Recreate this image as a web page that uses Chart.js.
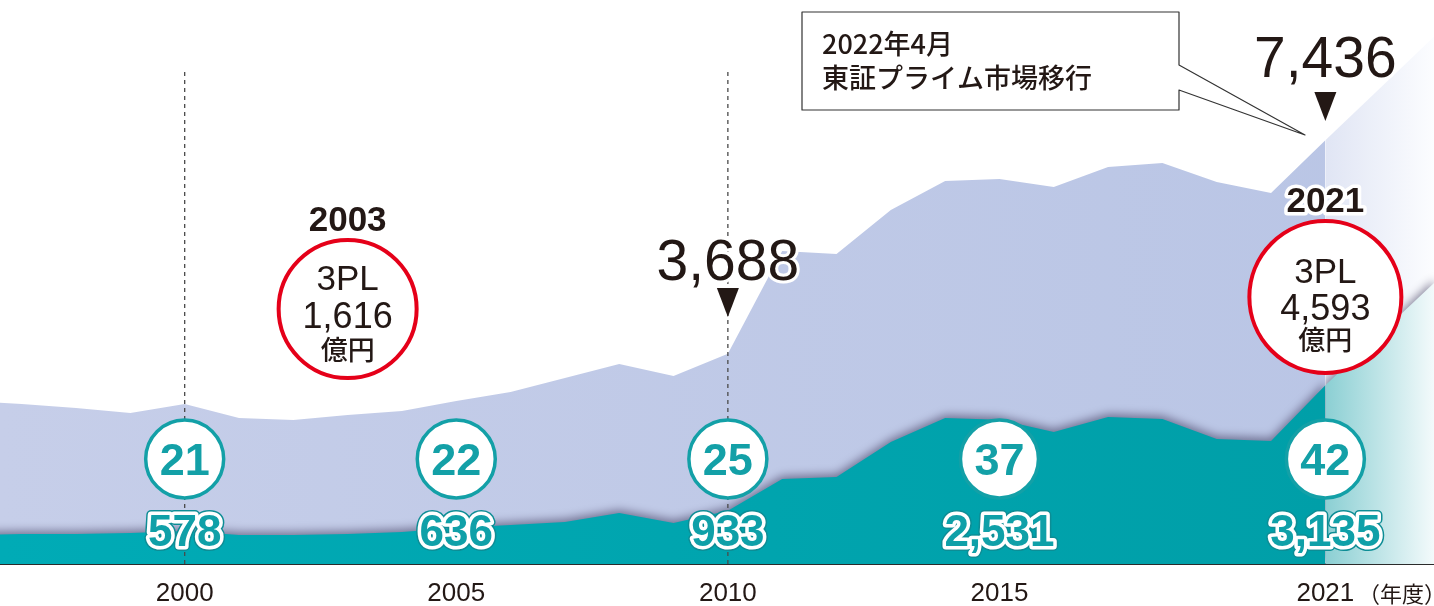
<!DOCTYPE html>
<html><head><meta charset="utf-8">
<script src="https://cdn.jsdelivr.net/npm/chart.js@4/dist/chart.umd.min.js"></script>
<style>html,body{margin:0;padding:0;background:#fff}#wrap{width:1434px;height:606px;position:relative}</style>
</head><body><div id="wrap"><canvas id="c" width="1434" height="606"></canvas></div>
<script>
// ---- data ----
const years       = [1996,1997,1998,1999,2000,2001,2002,2003,2004,2005,2006,2007,2008,2009,2010,2011,2012,2013,2014,2015,2016,2017,2018,2019,2020,2021];
const totalValues = [2860,2807,2737,2649,2807,2561,2526,2614,2684,2860,3018,3263,3509,3298,3688,5491,5439,6211,6719,6754,6614,6965,7035,6702,6509,7436];
const tplValues   = [509,526,526,544,578,509,509,526,561,636,684,737,895,719,933,1491,1526,2140,2561,2531,2316,2579,2544,2193,2158,3135];
const projYears   = [2021,2023];
const totalProj   = [7436,9250];
const tplProj     = [3135,4930];
const guideYears  = [2000,2010];
const guideTop    = 8700;
const tickYears   = [2000,2005,2010,2015,2021];
const companyYears  = [2000,2005,2010,2015,2021];
const companyCounts = ['21','22','25','37','42'];
const tplLabels     = ['578','636','933','2,531','3,135'];
const peakYears   = [2010,2021];
const peakLabels  = ['3,688','7,436'];
const marketYears = [2003,2021];
const marketLabels= ['1,616','4,593'];
const calloutLines= ['2022年4月','東証プライム市場移行'];
const unitLabel   = '（年度）';

// ---- style ----
const SANS = '"Liberation Sans", Arial, Helvetica, sans-serif';
const CJK  = '"Noto Sans CJK JP", "Noto Sans", sans-serif';
const INK = '#231815', TEAL = '#13a0a7', RED = '#e50019';

const pts = (xs, ys) => xs.map((x,i)=>({x, y: ys[i]}));

function hGrad(ctx, area, stops){
  const g = ctx.createLinearGradient(area.left,0,area.right,0);
  stops.forEach(s=>g.addColorStop(s[0],s[1]));
  return g;
}
function projGrad(chart, c0, c1){
  const {ctx, chartArea, scales} = chart;
  if(!chartArea) return c0;
  const x0 = scales.x.getPixelForValue(2021), x1 = chartArea.right;
  const g = ctx.createLinearGradient(x0,0,x1,0);
  g.addColorStop(0,c0); g.addColorStop(1,c1); return g;
}

const shadowPlugin = {
  id:'areaShadow',
  afterDatasetDraw(chart,args){
    const ctx = chart.ctx;
    if(args.index===4){ ctx.save(); ctx.shadowColor='rgba(60,55,90,0.6)'; ctx.shadowBlur=10; ctx.shadowOffsetX=0; ctx.shadowOffsetY=-3; }
    if(args.index===2){ ctx.restore(); }
  }
};

function capText(ctx, s, x, cy, size, weight, color, family, halo){
  ctx.font = `${weight} ${size}px ${family}`;
  ctx.textAlign='center'; ctx.textBaseline='alphabetic';
  const y = cy + size*0.716/2;
  if(halo){ ctx.lineJoin='round'; ctx.strokeStyle='#fff'; ctx.lineWidth=halo; ctx.strokeText(s,x,y); }
  ctx.fillStyle=color; ctx.fillText(s,x,y);
}
function circle(ctx,x,y,r,fill,stroke,lw){
  ctx.beginPath(); ctx.arc(x,y,r,0,Math.PI*2);
  ctx.fillStyle=fill; ctx.fill();
  ctx.lineWidth=lw; ctx.strokeStyle=stroke; ctx.stroke();
}
function triangle(ctx,x,top,w,h){
  ctx.beginPath(); ctx.moveTo(x-w/2,top); ctx.lineTo(x+w/2,top); ctx.lineTo(x,top+h); ctx.closePath();
  ctx.fillStyle=INK; ctx.fill();
}

const annotPlugin = {
  id:'annot',
  afterDraw(chart){
    const ctx = chart.ctx, xs = chart.scales.x;
    ctx.save();
    companyYears.forEach((yr,i)=>{
      const x = xs.getPixelForValue(yr);
      circle(ctx,x,459,39,'#fff',TEAL,3.5);
      capText(ctx,companyCounts[i],x,459,45,'bold',TEAL,SANS);
      ctx.font=`bold 44px ${SANS}`; ctx.textAlign='center'; ctx.textBaseline='alphabetic';
      const y = 530 + 44*0.716/2; ctx.lineJoin='round';
      ctx.strokeStyle='#0d8d95'; ctx.lineWidth=10; ctx.strokeText(tplLabels[i],x,y);
      ctx.strokeStyle='#fff'; ctx.lineWidth=7; ctx.strokeText(tplLabels[i],x,y);
      ctx.fillStyle='#0fa0a8'; ctx.fillText(tplLabels[i],x,y);
    });
    const mk = [{cy:309,r:69,yl:218,t:[277,315,350]},{cy:297,r:76,yl:199,t:[270,307,340]}];
    marketYears.forEach((yr,i)=>{
      const x = xs.getPixelForValue(yr), m = mk[i];
      capText(ctx,String(yr),x,m.yl,35,'bold',INK,SANS,7);
      circle(ctx,x,m.cy,m.r,'#fff',RED,4);
      capText(ctx,'3PL',x,m.t[0],35,'normal',INK,SANS);
      capText(ctx,marketLabels[i],x,m.t[1],36,'normal',INK,SANS);
      ctx.font=`500 27px ${CJK}`; ctx.textBaseline='middle'; ctx.fillStyle=INK; ctx.textAlign='center';
      ctx.fillText('億円',x,m.t[2]);
    });
    ctx.beginPath();
    ctx.moveTo(802,12); ctx.lineTo(1179,12); ctx.lineTo(1179,65); ctx.lineTo(1305,135);
    ctx.lineTo(1179,90); ctx.lineTo(1179,110); ctx.lineTo(802,110); ctx.closePath();
    ctx.fillStyle='#fff'; ctx.fill(); ctx.lineWidth=1.2; ctx.strokeStyle='#333'; ctx.stroke();
    ctx.font=`500 27px ${CJK}`; ctx.textAlign='left'; ctx.textBaseline='middle'; ctx.fillStyle=INK;
    ctx.fillText(calloutLines[0],822,44);
    ctx.fillText(calloutLines[1],822,78);
    const pk = [{cy:260,tri:288},{cy:57,tri:92}];
    peakYears.forEach((yr,i)=>{
      const x = xs.getPixelForValue(yr);
      capText(ctx,peakLabels[i],x,pk[i].cy,57,'normal',INK,SANS,6);
      triangle(ctx,x,pk[i].tri,22,29);
    });
    ctx.font=`400 22px ${CJK}`; ctx.textAlign='left'; ctx.textBaseline='middle'; ctx.fillStyle=INK;
    ctx.fillText(unitLabel,1358,594);
    ctx.restore();
  }
};

new Chart(document.getElementById('c'),{
  type:'line',
  data:{datasets:[
    {label:'g2000',data:pts([guideYears[0],guideYears[0]],[0,guideTop]),borderColor:'#4a4a4a',borderWidth:1.3,borderDash:[4,4],pointRadius:0,fill:false},
    {label:'g2010',data:pts([guideYears[1],guideYears[1]],[0,guideTop]),borderColor:'#4a4a4a',borderWidth:1.3,borderDash:[4,4],pointRadius:0,fill:false},
    {label:'3PL',data:pts(years,tplValues),borderWidth:0,pointRadius:0,fill:'origin',tension:0,
      backgroundColor:c=>c.chart.chartArea?hGrad(c.chart.ctx,c.chart.chartArea,[[0,'#00abb6'],[1,'#009ea7']]):'#00a5ae'},
    {label:'3PLproj',data:pts(projYears,tplProj),borderWidth:0,pointRadius:0,fill:'origin',
      backgroundColor:c=>projGrad(c.chart,'#8bcfd3','#f3fafb')},
    {label:'totalproj',data:pts(projYears,totalProj),borderWidth:0,pointRadius:0,fill:'origin',
      backgroundColor:c=>projGrad(c.chart,'#e0e5f4','#fcfdff')},
    {label:'total',data:pts(years,totalValues),borderWidth:0,pointRadius:0,fill:'origin',tension:0,
      backgroundColor:c=>c.chart.chartArea?hGrad(c.chart.ctx,c.chart.chartArea,[[0,'#c6cee9'],[1,'#b9c5e5']]):'#c0cae8'}
  ]},
  options:{
    responsive:false, animation:false, devicePixelRatio:1,
    layout:{padding:0},
    plugins:{legend:{display:false},tooltip:{enabled:false}},
    scales:{
      x:{type:'linear',min:1996.6,max:2023,z:1,
        grid:{display:false,drawTicks:false},
        border:{display:true,color:'#2b2b2b',width:2},
        afterBuildTicks:s=>{s.ticks=tickYears.map(v=>({value:v}));},
        afterFit:s=>{s.height=42;},
        ticks:{padding:14,color:INK,font:{family:SANS,size:26},callback:v=>String(v),autoSkip:false,maxRotation:0}
      },
      y:{display:false,min:0,max:9895}
    }
  },
  plugins:[shadowPlugin,annotPlugin]
});
</script></body></html>
